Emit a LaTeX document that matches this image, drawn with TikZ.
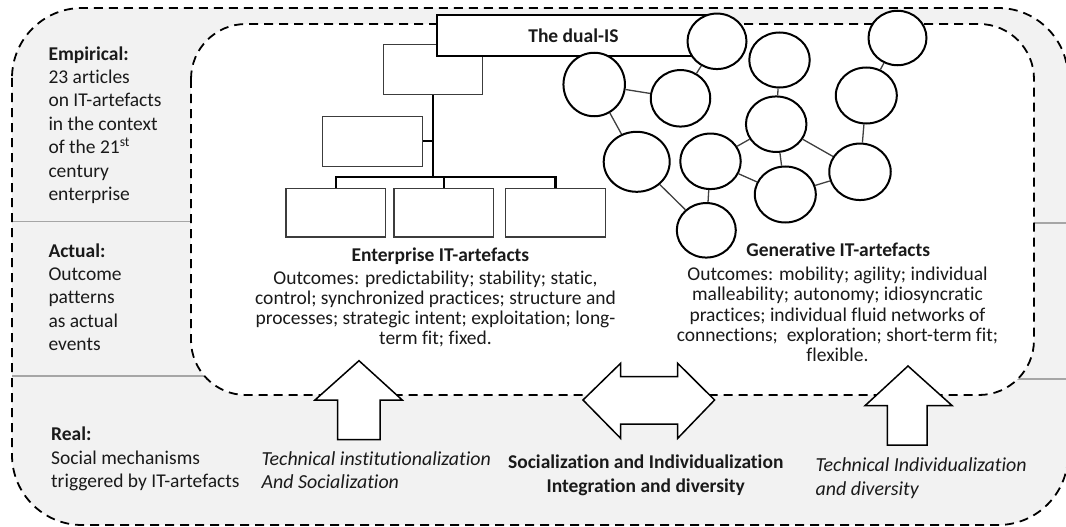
\documentclass[tikz,border=0pt]{standalone}
\usepackage{fontspec}
\setmainfont{Carlito}[Ligatures={NoCommon,NoRequired,NoContextual}]
\usetikzlibrary{shapes.geometric}
\definecolor{bgc}{HTML}{F2F2F2}
\definecolor{rulec}{HTML}{A6A6A6}
\definecolor{boxc}{HTML}{3C3C3C}
\definecolor{edgec}{HTML}{404040}
\definecolor{txtc}{HTML}{1A1A1A}
\begin{document}
\begin{tikzpicture}[x=1pt,y=-1pt,
  dashline/.style={draw=black, line width=1.8pt, dash pattern=on 9pt off 6pt},
  rulegray/.style={draw=rulec, line width=1.2pt},
  tbox/.style 2 args={draw=boxc, line width=1.4pt, fill=white, inner sep=0pt, minimum width=#1pt, minimum height=#2pt},
  titlebox/.style 2 args={draw=black, line width=1.9pt, fill=white, inner sep=0pt, minimum width=#1pt, minimum height=#2pt, text=txtc, font=\fontsize{19.5}{23.4}\selectfont\bfseries},
  trunk/.style={draw=black, line width=2.8pt},
  bus/.style={draw=black, line width=2.1pt},
  circ/.style 2 args={ellipse, draw=black, line width=2pt, fill=white, inner sep=0pt, minimum width=#1pt, minimum height=#2pt},
  edge/.style={draw=edgec, line width=1.3pt},
  blockarrow/.style={draw=black, line width=1.5pt, fill=white, line join=miter},
  txt/.style={inner sep=0pt, text=txtc, font=\fontsize{19.5}{23.4}\selectfont},
  btxt/.style={inner sep=0pt, text=txtc, font=\fontsize{19.5}{23.4}\selectfont\bfseries},
  itxt/.style={inner sep=0pt, text=txtc, font=\fontsize{19.9}{23.4}\selectfont\itshape}
]
\useasboundingbox (0,0) rectangle (1066,527);
\clip (0,0) rectangle (1066,527);

% outer grey band
\fill[bgc, rounded corners=70pt] (12,8) rectangle (1068,525);
% grey separator lines
\draw[rulegray] (12,221.7) -- (200,221.7);
\draw[rulegray] (12,376) -- (230,376);
\draw[rulegray] (1020,223) -- (1066,223);
\draw[rulegray] (990,379) -- (1066,379);
% inner dashed frame
\draw[dashline, fill=white, rounded corners=55pt] (191,24) rectangle (1034,395);
% outer dashed frame
\draw[dashline, rounded corners=70pt] (12,8) rectangle (1068,525);

% enterprise tree
\node[tbox={99.5}{50}] (tb) at (433,69.7) {};
\node[tbox={100}{50}] (mb) at (372.7,141.2) {};
\node[tbox={99.5}{48.5}] (b1) at (335.8,212.6) {};
\node[tbox={99.5}{48.5}] (b2) at (443.6,212.6) {};
\node[tbox={99.5}{48.5}] (b3) at (555.5,212.6) {};
\draw[bus] (b1.north) -- ++(0,-11) coordinate (bl) -| (b3.north);
\draw[bus] (b2.north) -- (b2.north |- bl);
\draw[bus] (mb.east) -- (mb.east -| tb.south);
\draw[trunk] (tb.south) -- (tb.south |- bl);

% title box
\node[titlebox={273.5}{41}] (title) at (573.4,35.4) {The dual-IS};

% generative network
\node[circ={59}{55.5}] (c1) at (717,41.3) {};
\node[circ={61.5}{63.5}] (c2) at (594.2,84.5) {};
\node[circ={59.5}{56.5}] (c3) at (680.5,98.3) {};
\node[circ={60.5}{55}] (c4) at (779.5,60) {};
\node[circ={58}{54.5}] (c5) at (897.5,38) {};
\node[circ={61}{56}] (c6) at (866.3,95.5) {};
\node[circ={60.5}{55.5}] (c7) at (776.2,124.2) {};
\node[circ={66}{60}] (c8) at (636.7,161.8) {};
\node[circ={60.5}{55.5}] (c9) at (710.5,161.3) {};
\node[circ={61}{56}] (c10) at (785.3,194.5) {};
\node[circ={61.5}{56.5}] (c11) at (860,171.8) {};
\node[circ={59}{54.5}] (c12) at (706.3,230.3) {};
\draw[edge] (c1) -- (c3);
\draw[edge] (c2) -- (c3);
\draw[edge] (c2) -- (c8);
\draw[edge] (c4) -- (c7);
\draw[edge] (c5) -- (c6);
\draw[edge] (c6) -- (c11);
\draw[edge] (c7) -- (c9);
\draw[edge] (c7) -- (c11);
\draw[edge] (c7) -- (c10);
\draw[edge] (c9) -- (c10);
\draw[edge] (c10) -- (c11);
\draw[edge] (c8) -- (c12);
\draw[edge] (c9) -- (c12);

% block arrows
\draw[blockarrow] (359,360.7) -- (402.2,400) -- (380,400) -- (380,439.5) -- (337.5,439.5) -- (337.5,400) -- (315,400) -- cycle;
\draw[blockarrow] (583,400) -- (620.6,363.3) -- (620.6,376.7) -- (677.7,376.7) -- (677.7,363.3) -- (714.6,400) -- (677.7,438.3) -- (677.7,424) -- (620.6,424) -- (620.6,438.3) -- cycle;
\draw[blockarrow] (908,366) -- (952.2,405.7) -- (927,405.7) -- (927,445) -- (887.3,445) -- (887.3,405.7) -- (865,405.7) -- cycle;

% left column
\node[btxt, anchor=base west] (emph) at (48.3,60) {Empirical:};
\foreach \s [count=\i] in {{23 articles},{on IT-artefacts},{in the context},{of the 21\textsuperscript{st}},{century},{enterprise}}
  \node[txt, anchor=base west] (emp\i) at (48.3,{60+23.4*\i}) {\s};
\node[btxt, anchor=base west] (acth) at (48.3,257) {Actual:};
\foreach \s [count=\i] in {{Outcome},{patterns},{as actual},{events}}
  \node[txt, anchor=base west] (act\i) at (48.3,{257+23.4*\i}) {\s};
\node[btxt, anchor=base west] (realh) at (51,440.7) {Real:};
\foreach \s [count=\i] in {{Social mechanisms},{triggered by IT-artefacts}}
  \node[txt, anchor=base west] (real\i) at (51,{440.7+23.4*\i}) {\s};

% enterprise text
\node[btxt, anchor=base] (enth) at (440.4,261.7) {Enterprise IT-artefacts};
\foreach \s [count=\i] in {{Outcomes: predictability; stability; static,},{control; synchronized practices; structure and},{processes; strategic intent; exploitation; long-},{term fit; fixed.}}
  \node[txt, anchor=base] (ent\i) at (435.5,{264.3+20.1*\i}) {\s};

% generative text
\node[btxt, anchor=base] (genh) at (838.3,256.7) {Generative IT-artefacts};
\foreach \s [count=\i] in {{Outcomes: mobility; agility; individual},{malleability; autonomy; idiosyncratic},{practices; individual fluid networks of},{connections;\ \ exploration; short-term fit;},{flexible.}}
  \node[txt, anchor=base] (gen\i) at (837.5,{260.4+20.2*\i}) {\s};

% bottom labels
\node[itxt, anchor=base west] (ti1) at (261.5,465) {Technical institutionalization};
\node[itxt, anchor=base west] (ti2) at (261.5,488.3) {And Socialization};
\node[btxt, anchor=base] (si1) at (645.7,468) {Socialization and Individualization};
\node[btxt, anchor=base] (si2) at (645.7,492) {Integration and diversity};
\node[itxt, anchor=base west] (tr1) at (815.5,471) {Technical Individualization};
\node[itxt, anchor=base west] (tr2) at (815.5,495) {and diversity};
\end{tikzpicture}
\end{document}
